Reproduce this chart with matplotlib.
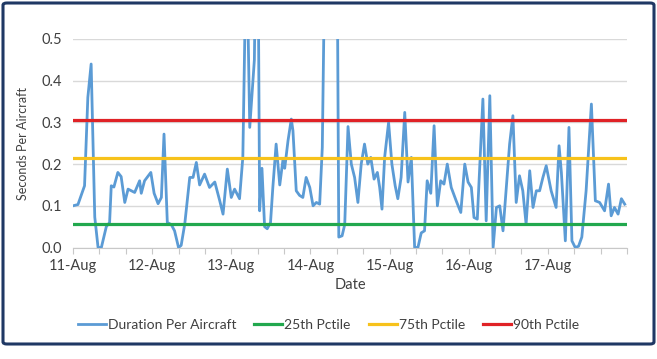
#!/usr/bin/env python3
# -*- coding: utf-8 -*-

import matplotlib
matplotlib.use('Agg')
from matplotlib import pyplot as plt
from matplotlib.patches import FancyBboxPatch

# hours since 11-Aug 00:00 and duration per aircraft (s)
hours = [0, 1.5, 3.5, 4.5, 5.5, 6.6, 7.6, 8.6, 10.1, 11.1, 11.6, 12.4, 13.6, 14.6, 15.7,
         16.7, 18.7, 20.2, 20.7, 21.7, 23.6, 24.6, 25.8, 26.8, 27.6, 28.6, 29.8, 30.8,
         32.0, 32.8, 33.9, 35.4, 36.4, 37.4, 38.4, 39.9, 41.4, 43.0, 44.5, 45.5, 46.8,
         48.0, 49.0, 50.5, 51.5, 52.6, 53.6, 55.0, 55.9, 56.6, 57.3, 58.1, 58.9, 59.9,
         60.6, 61.6, 62.7, 63.7, 64.2, 65.2, 66.2, 66.7, 67.7, 68.7, 69.7, 70.7, 71.8,
         72.8, 73.8, 74.8, 75.6, 76.7, 78.2, 79.9, 80.6, 81.6, 82.4, 83.4, 84.4, 85.4,
         86.4, 87.4, 88.4, 89.4, 90.3, 91.3, 92.3, 93.0, 93.7, 94.5, 95.7, 96.7, 97.7,
         98.5, 99.5, 100.6, 101.6, 102.6, 103.6, 104.6, 105.6, 106.6, 107.4, 108.5,
         109.5, 110.5, 111.5, 112.5, 113.5, 114.7, 116.2, 117.6, 118.8, 119.8, 120.8,
         121.6, 122.6, 124.3, 125.3, 126.4, 127.4, 128.4, 129.4, 130.4, 131.4, 132.4,
         133.4, 134.4, 135.4, 136.4, 137.4, 138.5, 139.5, 140.5, 141.5, 142.5, 143.5,
         145.0, 146.5, 147.4, 148.1, 149.3, 150.4, 151.3, 152.3, 153.3, 154.3, 155.6,
         157.2, 158.4, 159.7, 161.2, 162.4, 163.2, 164.2, 165.3, 166.3, 167.3]
duration = [0.10, 0.103, 0.148, 0.36, 0.44, 0.073, 0.0, 0.0, 0.05, 0.06, 0.148, 0.145, 0.18,
            0.17, 0.108, 0.14, 0.132, 0.16, 0.13, 0.16, 0.18, 0.13, 0.105, 0.12, 0.272,
            0.06, 0.055, 0.04, 0.0, 0.005, 0.057, 0.168, 0.168, 0.204, 0.15, 0.176, 0.144,
            0.157, 0.112, 0.08, 0.188, 0.12, 0.14, 0.117, 0.216, 0.75, 0.288, 0.45, 1.0,
            0.088, 0.19, 0.05, 0.045, 0.06, 0.144, 0.248, 0.15, 0.212, 0.19, 0.256, 0.308,
            0.28, 0.136, 0.125, 0.12, 0.168, 0.144, 0.1, 0.108, 0.104, 0.24, 0.9, 1.2, 1.0,
            0.025, 0.028, 0.055, 0.29, 0.2, 0.168, 0.108, 0.2, 0.248, 0.2, 0.216, 0.164,
            0.18, 0.144, 0.092, 0.216, 0.3, 0.2, 0.148, 0.117, 0.168, 0.324, 0.157, 0.216,
            0.0, 0.0, 0.035, 0.04, 0.16, 0.13, 0.292, 0.1, 0.16, 0.152, 0.2, 0.144, 0.112,
            0.084, 0.2, 0.157, 0.144, 0.072, 0.068, 0.356, 0.064, 0.364, 0.0, 0.096, 0.1,
            0.04, 0.144, 0.248, 0.316, 0.108, 0.172, 0.136, 0.056, 0.184, 0.096, 0.136,
            0.136, 0.168, 0.196, 0.136, 0.096, 0.244, 0.18, 0.016, 0.288, 0.016, 0.0,
            0.003, 0.025, 0.136, 0.344, 0.112, 0.108, 0.088, 0.152, 0.076, 0.096, 0.08,
            0.117, 0.104]

pctiles = [0.056, 0.214, 0.306]
pctile_names = ['25th Pctile', '75th Pctile', '90th Pctile']
pctile_colors = ['#22A84E', '#F7C21B', '#E02226']
day_labels = ['11-Aug', '12-Aug', '13-Aug', '14-Aug', '15-Aug', '16-Aug', '17-Aug']

TXT = '#404040'
plt.rcParams['font.family'] = ['Lato', 'DejaVu Sans']

fig = plt.figure(figsize=(6.57, 3.59), dpi=100)
ax = fig.add_axes([73/657, 1-247.5/359, 554/657, 208.5/359])

ax.plot(hours, duration, color='#5B9BD5', lw=2.0, solid_joinstyle='round',
        label='Duration Per Aircraft', zorder=3)
for val, name, col in zip(pctiles, pctile_names, pctile_colors):
    ax.plot([0, 168], [val, val], color=col, lw=2.3, label=name, zorder=4)

ax.set_xlim(0, 168)
ax.set_ylim(0, 0.5)
ax.set_yticks([0, 0.1, 0.2, 0.3, 0.4, 0.5])
ax.set_yticklabels(['%.1f' % v for v in ax.get_yticks()])
xt = list(range(0, 169, 8))
ax.set_xticks(xt)
ax.set_xticklabels([day_labels[t // 24] if t % 24 == 0 and t < 168 else '' for t in xt])
ax.grid(axis='y', color='#D9D9D9', lw=1)
ax.set_axisbelow(True)
for s in ['top', 'right', 'left']:
    ax.spines[s].set_visible(False)
ax.spines['bottom'].set_color('#C8C8C8')
ax.tick_params(axis='y', length=0, labelsize=10.5, labelcolor=TXT, pad=8)
ax.tick_params(axis='x', length=4, color='#C8C8C8', labelsize=10.5, labelcolor=TXT, pad=4)
ax.set_xlabel('Date', fontsize=10.5, color=TXT, labelpad=4)
ax.set_ylabel('Seconds Per Aircraft', fontsize=9, color=TXT, labelpad=9)

fig.legend(loc='center', bbox_to_anchor=(0.5, 1-325/359), ncol=4, frameon=False,
           fontsize=10, labelcolor=TXT, handlelength=2.0, handletextpad=0.15,
           columnspacing=1.3)

border = FancyBboxPatch((3/657, 1-344/359), 651/657, 341/359,
                        boxstyle='round,pad=0,rounding_size=0.006',
                        transform=fig.transFigure, fill=False,
                        edgecolor='#1F3864', lw=2.2)
fig.patches.append(border)

fig.savefig('out.png', dpi=100)
